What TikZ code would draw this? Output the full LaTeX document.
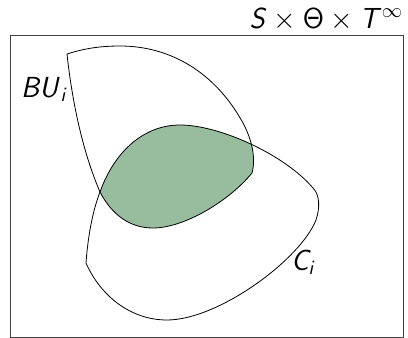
\RequirePackage{fix-cm}
\documentclass[tikz,border=0pt]{standalone}
\DeclareMathAlphabet{\mathsfit}{OT1}{cmss}{m}{sl}
\DeclareMathAlphabet{\mathsfup}{OT1}{cmss}{m}{n}
\definecolor{setgreen}{RGB}{152,189,158}
\tikzset{
  outline/.style={draw=black, line width=0.8pt},
  framebox/.style={draw=black!75, line width=0.8pt},
  lab/.style={inner sep=0pt, font=\fontsize{29}{34}\selectfont}
}
\def\bupath{(67,54) .. controls (72,100) and (82,150) .. (100,192)
  .. controls (112,215) and (130,228) .. (153,228)
  .. controls (185,228) and (230,200) .. (252,173)
  .. controls (256,158) and (252,140) .. (243,123)
  .. controls (215,72) and (170,46) .. (120,46)
  .. controls (95,46) and (80,50) .. (67,54) -- cycle}
\def\cpath{(86,263) .. controls (88,235) and (93,210) .. (100,192)
  .. controls (115,150) and (145,125) .. (180,125)
  .. controls (220,125) and (285,155) .. (313,188)
  .. controls (320,195) and (320,208) .. (316,220)
  .. controls (300,260) and (218,320) .. (167,320)
  .. controls (130,320) and (100,295) .. (86,263) -- cycle}
\begin{document}
\begin{tikzpicture}[x=1pt, y=-1pt]
\useasboundingbox (0,0) rectangle (408,338);
\draw[framebox] (10,35) rectangle (403,337);
\begin{scope}
  \clip \bupath;
  \fill[setgreen] \cpath;
\end{scope}
\draw[outline] \bupath;
\draw[outline] \cpath;
\node[lab, anchor=base east] (space) at (403,28) {$\mathsfit{S}\times\mathsfup{\Theta}\times\mathsfit{T}^{\infty}$};
\node[lab, anchor=base west] (bu) at (21,97) {$\mathsfit{BU}_{\mathsfit{i}}$};
\node[lab, anchor=base west] (ci) at (291,270) {$\mathsfit{C}_{\mathsfit{i}}$};
\end{tikzpicture}
\end{document}
